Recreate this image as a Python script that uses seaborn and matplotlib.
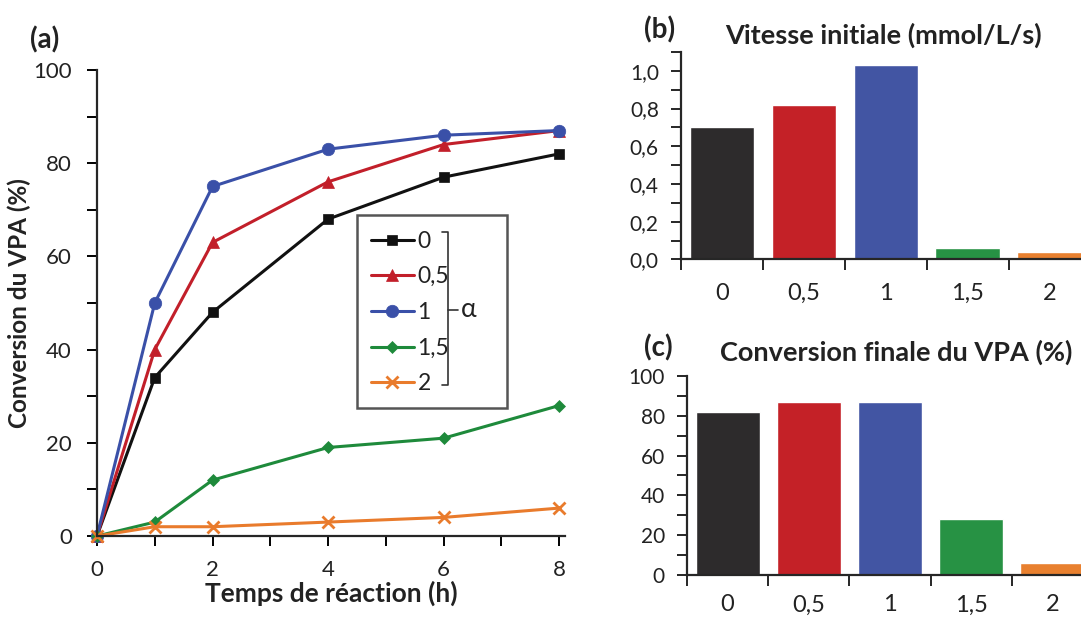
import pandas as pd
import matplotlib.pyplot as plt
import seaborn as sns
from matplotlib.patches import Rectangle
from matplotlib.ticker import MultipleLocator, FixedLocator, NullFormatter

# Data
temps = [0, 1, 2, 4, 6, 8]
alpha_labels = ['0', '0,5', '1', '1,5', '2']
conv_0 = [0, 34, 48, 68, 77, 82]
conv_05 = [0, 40, 63, 76, 84, 87]
conv_1 = [0, 50, 75, 83, 86, 87]
conv_15 = [0, 3, 12, 19, 21, 28]
conv_2 = [0, 2, 2, 3, 4, 6]
vitesse_initiale = [0.70, 0.82, 1.03, 0.06, 0.04]
conversion_finale = [82, 87, 87, 28, 6]

line_colors = ['#111111', '#c21f2a', '#3a50a8', '#1e8a3b', '#e97b2c']
bar_colors = ['#2d2b2c', '#c42127', '#4255a3', '#279244', '#e8802f']
markers = ['s', '^', 'o', 'D', 'x']
msizes = [7, 8, 9, 6, 9]
txt = '#222222'

sns.set_style("ticks")
plt.rcParams['font.family'] = ['Lato', 'DejaVu Sans']
plt.rcParams['axes.linewidth'] = 1.6

fig = plt.figure(figsize=(10.81, 6.19), dpi=100)

# ---------- (a) conversion vs time ----------
ax = fig.add_axes([0.0897, 0.134, 0.433, 0.753])
series = [conv_0, conv_05, conv_1, conv_15, conv_2]
for lab, vals, c, m, ms in zip(alpha_labels, series, line_colors, markers, msizes):
    sns.lineplot(x=temps, y=vals, ax=ax, color=c, marker=m, markersize=ms,
                 markeredgecolor=c, markeredgewidth=2 if m == 'x' else 0.5,
                 linewidth=2.2, label=lab, clip_on=False)
ax.set_xlim(0, 8.1)
ax.set_ylim(0, 100)
ax.xaxis.set_major_locator(MultipleLocator(2))
ax.xaxis.set_minor_locator(MultipleLocator(1))
ax.yaxis.set_major_locator(MultipleLocator(20))
ax.yaxis.set_minor_locator(MultipleLocator(10))
ax.tick_params(axis='both', which='both', length=7, width=1.4, color='black',
               labelsize=16, labelcolor=txt)
ax.tick_params(axis='x', pad=10)
ax.tick_params(axis='y', pad=11)
sns.despine(ax=ax)
ax.set_xlabel('Temps de réaction (h)', fontsize=19, fontweight='bold',
              labelpad=1, color=txt)
ax.set_ylabel('Conversion du VPA (%)', fontsize=17.5, fontweight='bold',
              labelpad=2, color=txt)

# legend with a frame box and bracket for alpha
ax.add_patch(Rectangle((0.556, 0.275), 0.32, 0.414, transform=ax.transAxes,
                       fill=False, edgecolor='#555555', linewidth=1.8))
leg = ax.legend(loc='upper left', bbox_to_anchor=(0.565, 0.675), frameon=False,
                fontsize=16.5, handlelength=1.9, handletextpad=0.15,
                labelspacing=0.64, borderaxespad=0)
for t in leg.get_texts():
    t.set_color(txt)
bx = 0.75
ax.plot([bx - 0.012, bx, bx, bx - 0.012], [0.652, 0.652, 0.325, 0.325],
        transform=ax.transAxes, color='#333333', linewidth=1.2, clip_on=False)
ax.plot([bx, bx + 0.022], [0.486, 0.486], transform=ax.transAxes,
        color='#333333', linewidth=1.2)
ax.text(bx + 0.027, 0.486, 'α', transform=ax.transAxes, fontsize=19,
        va='center', ha='left', color=txt)
fig.text(0.028, 0.935, '(a)', fontsize=20, fontweight='bold', color=txt,
         va='center')


def bar_panel(rect, values, ylim, major, minor, fmt, xpad):
    bax = fig.add_axes(rect)
    df = pd.DataFrame({'alpha': alpha_labels, 'val': values})
    sns.barplot(data=df, x='alpha', y='val', hue='alpha', order=alpha_labels,
                palette=bar_colors, legend=False, width=0.79, saturation=1,
                ax=bax)
    bax.set_xlim(-0.5, 4.5)
    bax.set_ylim(*ylim)
    bax.yaxis.set_major_locator(MultipleLocator(major))
    bax.yaxis.set_minor_locator(MultipleLocator(minor))
    bax.yaxis.set_major_formatter(fmt)
    bax.xaxis.set_major_locator(FixedLocator([-0.5, 0.5, 1.5, 2.5, 3.5, 4.5]))
    bax.xaxis.set_major_formatter(NullFormatter())
    bax.xaxis.set_minor_locator(FixedLocator(range(5)))
    bax.set_xticklabels(alpha_labels, minor=True)
    bax.tick_params(axis='x', which='major', length=8, width=1.4)
    bax.tick_params(axis='x', which='minor', length=0, pad=xpad, labelsize=17,
                    labelcolor=txt)
    bax.tick_params(axis='y', which='both', length=7, width=1.4, labelsize=15,
                    labelcolor=txt, pad=9)
    sns.despine(ax=bax)
    bax.set_xlabel('')
    bax.set_ylabel('')
    return bax


# ---------- (b) initial rate ----------
axb = bar_panel([0.630, 0.581, 0.379, 0.335], vitesse_initiale, (0, 1.1), 0.2,
                0.1, lambda v, p: f'{v:.1f}'.replace('.', ','), 17)
fig.text(0.6707, 0.9435, 'Vitesse initiale (mmol/L/s)', fontsize=19.5,
         fontweight='bold', color=txt, va='center', ha='left')
fig.text(0.5955, 0.952, '(b)', fontsize=20, fontweight='bold', color=txt,
         va='center')

# ---------- (c) final conversion ----------
axc = bar_panel([0.6355, 0.0711, 0.3756, 0.3215], conversion_finale, (0, 100),
                20, 10, lambda v, p: f'{v:.0f}', 14)
fig.text(0.666, 0.431, 'Conversion finale du VPA (%)', fontsize=19.5,
         fontweight='bold', color=txt, va='center', ha='left')
fig.text(0.5955, 0.438, '(c)', fontsize=20, fontweight='bold', color=txt,
         va='center')

plt.savefig('out.png', dpi=100)
